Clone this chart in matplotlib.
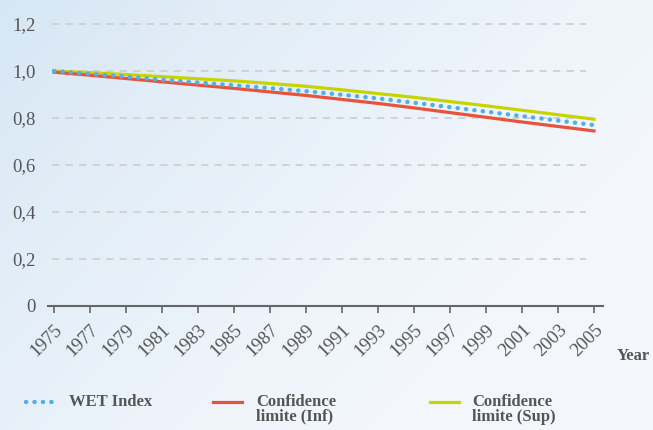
import numpy as np
import matplotlib
matplotlib.use("Agg")
import matplotlib.pyplot as plt
from matplotlib.lines import Line2D

years = [1975, 1977, 1979, 1981, 1983, 1985, 1987, 1989, 1991, 1993, 1995, 1997, 1999, 2001, 2003, 2005]
wet_index = [1.000, 0.988, 0.976, 0.963, 0.951, 0.939, 0.927, 0.914, 0.899, 0.883, 0.865, 0.846, 0.827, 0.808, 0.789, 0.770]
conf_inf = [0.995, 0.982, 0.968, 0.954, 0.940, 0.926, 0.911, 0.896, 0.879, 0.862, 0.843, 0.823, 0.803, 0.783, 0.764, 0.745]
conf_sup = [1.000, 0.993, 0.985, 0.976, 0.967, 0.958, 0.947, 0.935, 0.920, 0.904, 0.888, 0.870, 0.852, 0.833, 0.814, 0.795]
y_ticks = [0, 0.2, 0.4, 0.6, 0.8, 1.0, 1.2]
y_tick_labels = ["0", "0,2", "0,4", "0,6", "0,8", "1,0", "1,2"]
x_tick_labels = [str(y) for y in years]

TXT = "#555555"
FONT = "Liberation Serif"
BLUE_DOT = dict(color="#4fb0ea", linewidth=3.2, linestyle=(0, (0.05, 1.85)), dash_capstyle="round")

fig = plt.figure(figsize=(6.53, 4.30), dpi=100)

# background gradient
bg = fig.add_axes([0, 0, 1, 1], zorder=-10)
gx = np.linspace(0, 1, 200)
gy = np.linspace(0, 1, 200)
X, Y = np.meshgrid(gx, gy)
t = np.clip(1 - (0.8 * X + 0.5 * Y), 0, 1) ** 1.3
c0 = np.array([0.955, 0.970, 0.988])
c1 = np.array([0.840, 0.905, 0.958])
img = c0[None, None, :] * (1 - t[..., None]) + c1[None, None, :] * t[..., None]
bg.imshow(img, aspect="auto", extent=[0, 1, 0, 1], origin="upper")
bg.axis("off")

ax = fig.add_axes([48 / 653, (430 - 306) / 430, (603 - 48) / 653, (306 - 12.25) / 430])
ax.set_facecolor("none")
ax.set_xlim(1975 - 6 / 18, 2005 + 9 / 18)
ax.set_ylim(0, 1.25)

ax.hlines(y_ticks[1:], 1975 - 2 / 18, 2005 - 8 / 18, colors="#cfcfcf",
          linestyles=(0, (4, 3.5)), linewidth=1.3, zorder=1)

ax.plot(years, conf_sup, color="#c8d400", linewidth=2.3, zorder=3)
ax.plot(years, conf_inf, color="#e8533a", linewidth=2.3, zorder=3)
ax.plot(years, wet_index, zorder=4, **BLUE_DOT)

for s in ["left", "right", "top"]:
    ax.spines[s].set_visible(False)
ax.spines["bottom"].set_color("#666666")
ax.spines["bottom"].set_linewidth(1.5)

ax.set_yticks(y_ticks)
ax.set_yticklabels(y_tick_labels, fontsize=13.5, color=TXT, family=FONT)
ax.tick_params(axis="y", length=0, pad=9)
ax.set_xticks(years)
ax.set_xticklabels(x_tick_labels, rotation=45, ha="right", va="top", rotation_mode="anchor",
                   fontsize=13.5, color=TXT, family=FONT)
ax.tick_params(axis="x", length=5, width=1.2, color="#666666", pad=6)

fig.text(617 / 653, 1 - 356 / 430, "Year", fontsize=12, color=TXT, family=FONT,
         fontweight="bold", va="center", ha="left")

# legend
legend_items = [
    (26, 69, BLUE_DOT, "WET Index"),
    (213, 256, dict(color="#e8533a", linewidth=2.3), "Confidence\nlimite (Inf)"),
    (430, 472, dict(color="#c8d400", linewidth=2.3), "Confidence\nlimite (Sup)"),
]
ly = 1 - 402 / 430
for x0, tx, style, lab in legend_items:
    fig.add_artist(Line2D([x0 / 653, (x0 + 29) / 653], [ly, ly], transform=fig.transFigure, **style))
    fig.text(tx / 653, 1 - 394 / 430, lab, fontsize=12, color=TXT, family=FONT,
             fontweight="bold", va="top", ha="left", multialignment="left", linespacing=0.9)

fig.savefig("out.png", dpi=100)
